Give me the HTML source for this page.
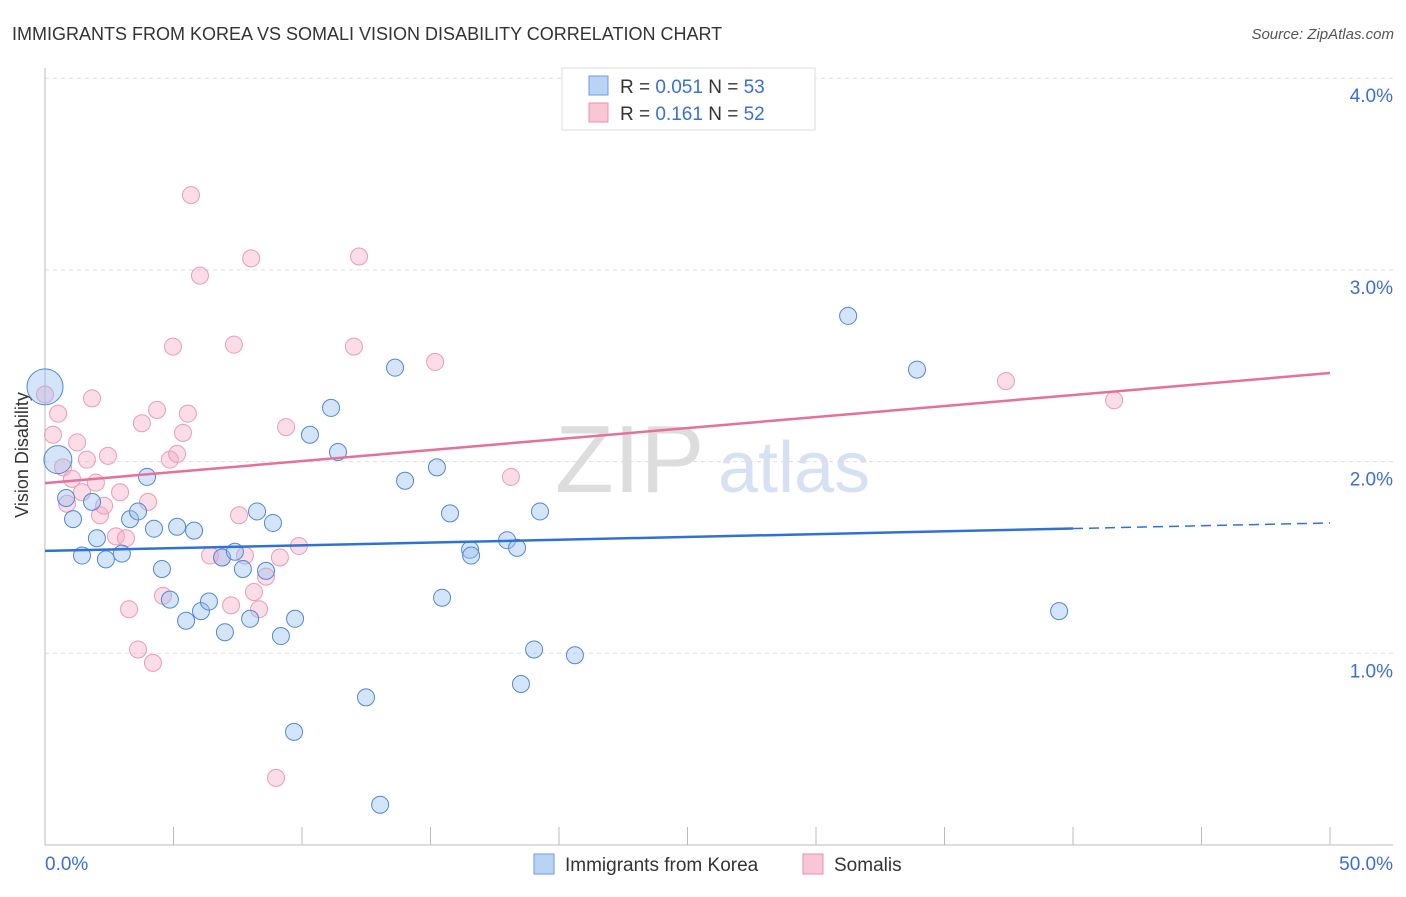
<!DOCTYPE html>
<html><head><meta charset="utf-8"><style>
body{margin:0;background:#fff;font-family:"Liberation Sans",sans-serif;}
svg text{font-family:"Liberation Sans",sans-serif;}
</style></head><body>
<svg width="1406" height="892" xmlns="http://www.w3.org/2000/svg">
<text x="12" y="40" font-size="18" fill="#333">IMMIGRANTS FROM KOREA VS SOMALI VISION DISABILITY CORRELATION CHART</text>
<text x="1394" y="39" font-size="15" fill="#555" font-style="italic" text-anchor="end">Source: ZipAtlas.com</text>
<text x="555" y="492" font-size="96" fill="#ddd" font-family="Liberation Serif">ZIP</text>
<text x="718" y="492" font-size="72" fill="#d6e2f3">atlas</text>
<g id="grid"></g>
<line x1="45" y1="68" x2="45" y2="845" stroke="#bbb"/>
<line x1="45" y1="845" x2="1393" y2="845" stroke="#bbb"/>
<g id="ticks"></g>
<text x="28" y="455" font-size="18" fill="#333" transform="rotate(-90 28 455)" text-anchor="middle">Vision Disability</text>
<text x="45" y="870" font-size="19" fill="#3a6fd8">0.0%</text>
<text x="1393" y="870" font-size="19" fill="#3a6fd8" text-anchor="end">50.0%</text>
<g id="pts"></g>
<g id="lines"></g>
<g>
<rect x="562" y="68" width="253" height="62" fill="#fff" stroke="#ddd"/>
<rect x="589" y="76" width="19" height="19" fill="#b9d3f5" stroke="#6b9be0"/>
<rect x="589" y="103" width="19" height="19" fill="#f9c6d6" stroke="#e890ae"/>
<text x="620" y="93" font-size="19" fill="#333">R = <tspan fill="#3a6fd8">0.051</tspan>   N = <tspan fill="#3a6fd8">53</tspan></text>
<text x="620" y="120" font-size="19" fill="#333">R =  <tspan fill="#3a6fd8">0.161</tspan>   N = <tspan fill="#3a6fd8">52</tspan></text>
</g>
<g>
<rect x="534" y="854" width="20" height="20" fill="#b9d3f5" stroke="#6b9be0"/>
<text x="565" y="871" font-size="19" fill="#333">Immigrants from Korea</text>
<rect x="803" y="854" width="20" height="20" fill="#f9c6d6" stroke="#e890ae"/>
<text x="834" y="871" font-size="19" fill="#333">Somalis</text>
</g>
</svg>
<script>
const yTicks=[1,2,3,4];
const yTickLabels=["1.0%","2.0%","3.0%","4.0%"];
const koreaX=[0,0.5,0.82,1.09,1.44,1.83,2.02,2.37,2.99,3.31,3.62,3.97,4.24,4.55,4.86,5.14,5.49,5.8,6.07,6.38,6.89,7.0,7.39,7.7,7.98,8.25,8.6,8.87,9.18,9.69,9.73,10.31,11.13,11.4,12.49,13.04,13.62,14.01,15.25,15.45,15.76,16.54,16.58,17.98,18.37,18.52,19.03,19.26,20.62,31.25,33.93,39.46];
const koreaY=[2.39,2.01,1.81,1.70,1.51,1.79,1.60,1.49,1.52,1.70,1.74,1.92,1.65,1.44,1.28,1.66,1.17,1.64,1.22,1.27,1.50,1.11,1.53,1.44,1.18,1.74,1.43,1.68,1.09,0.59,1.18,2.14,2.28,2.05,0.77,0.21,2.49,1.90,1.97,1.29,1.73,1.54,1.51,1.59,1.55,0.84,1.02,1.74,0.99,2.76,2.48,1.22];
const koreaR=[18,14];
const somaliX=[0,0.31,0.51,0.7,0.86,1.05,1.25,1.44,1.63,1.83,1.98,2.14,2.3,2.45,2.76,2.92,3.15,3.27,3.62,3.77,4.01,4.2,4.36,4.59,4.86,4.98,5.14,5.37,5.56,5.68,6.03,6.42,6.89,7.24,7.35,7.55,7.78,8.02,8.13,8.33,8.6,8.99,9.14,9.38,9.88,12.02,12.22,15.18,18.13,37.39,41.6];
const somaliY=[2.35,2.14,2.25,1.97,1.78,1.91,2.10,1.84,2.01,2.33,1.89,1.72,1.77,2.03,1.61,1.84,1.60,1.23,1.02,2.20,1.79,0.95,2.27,1.30,2.01,2.60,2.04,2.15,2.25,3.39,2.97,1.51,1.50,1.25,2.61,1.72,1.51,3.06,1.32,1.23,1.40,0.35,1.50,2.18,1.56,2.60,3.07,2.52,1.92,2.42,2.32];
const koreaTrend=[1.534,1.680];
const somaliTrend=[1.888,2.462];
const NS="http://www.w3.org/2000/svg";
const sx=v=>45+v/50*1285;
const sy=v=>845-v*191.7;
function mk(tag,attrs,parent){const e=document.createElementNS(NS,tag);for(const k in attrs)e.setAttribute(k,attrs[k]);document.getElementById(parent).appendChild(e);return e;}
yTicks.forEach((t,i)=>{
 const l=mk('line',{x1:45,x2:1393,y1:sy(t),y2:sy(t),stroke:'#ddd','stroke-dasharray':'4,4'},'grid');
 
 
 const tx=mk('text',{x:1393,y:sy(t)+24,'font-size':19,fill:'#3a6fd8','text-anchor':'end'},'grid');
 tx.textContent=yTickLabels[i];
 
 
});
for(let i=0;i<=10;i++){
 const l=mk('line',{x1:sx(i*5),x2:sx(i*5),y1:827,y2:845,stroke:'#bbb'},'ticks');
 
 
}
somaliX.forEach((x,i)=>{
 const c=mk('circle',{cx:sx(x),cy:sy(somaliY[i]),r:8.5,fill:'rgba(246,170,195,0.4)',stroke:'#eb9bb6','stroke-width':1},'pts');
 
 
});
koreaX.forEach((x,i)=>{
 const c=mk('circle',{cx:sx(x),cy:sy(koreaY[i]),r:koreaR[i]||8.5,fill:'rgba(150,190,240,0.4)',stroke:'#4f88d8','stroke-width':1},'pts');
 
 
});
const kAt=x=>koreaTrend[0]+(koreaTrend[1]-koreaTrend[0])*x/50;
const sAt=x=>somaliTrend[0]+(somaliTrend[1]-somaliTrend[0])*x/50;
let l1=mk('line',{x1:sx(0),y1:sy(kAt(0)),x2:sx(40),y2:sy(kAt(40)),stroke:'#2f72d6','stroke-width':2.5},'lines');


let l2=mk('line',{x1:sx(40),y1:sy(kAt(40)),x2:sx(50),y2:sy(kAt(50)),stroke:'#2f72d6','stroke-width':1.5,'stroke-dasharray':'10,6'},'lines');


let l3=mk('line',{x1:sx(0),y1:sy(sAt(0)),x2:sx(50),y2:sy(sAt(50)),stroke:'#e5709a','stroke-width':2.5},'lines');


</script>
</body></html>
